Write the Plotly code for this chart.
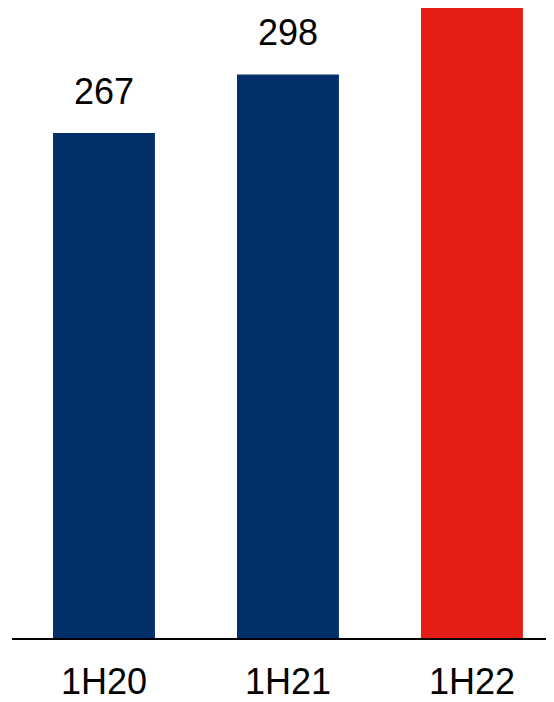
import plotly.graph_objects as go

categories = ["1H20", "1H21", "1H22"]
values = [267, 298, 334]
value_labels = ["267", "298", ""]  # the 1H22 label lies above the visible area in the reference
bar_colors = ["#03306B", "#03306B", "#E41E15"]

FONT = "Liberation Sans, Arial"
Y_TOP = 333.1

fig = go.Figure()
fig.add_trace(go.Bar(
    x=categories, y=values,
    marker=dict(color=bar_colors, line=dict(width=0)),
    width=0.554,
    hoverinfo="skip",
))

for c, v, t in zip(categories, values, value_labels):
    if t:
        fig.add_annotation(x=c, y=v, text=t, showarrow=False,
                           yanchor="bottom", yshift=19,
                           font=dict(family=FONT, size=36, color="#000000"))

fig.update_layout(
    width=546, height=694,
    margin=dict(l=4, r=0, t=0, b=64),
    paper_bgcolor="white", plot_bgcolor="white",
    showlegend=False,
    font=dict(family=FONT, size=36, color="#000000"),
)
fig.update_xaxes(
    range=[-0.5, 2.446], showline=True, linecolor="#000000", linewidth=2,
    ticks="", showgrid=False, zeroline=False,
    tickfont=dict(family=FONT, size=36, color="#000000"),
    ticklabelstandoff=11,
)
fig.update_yaxes(range=[0, Y_TOP], visible=False, showgrid=False, zeroline=False)

fig.write_html("out.html")
